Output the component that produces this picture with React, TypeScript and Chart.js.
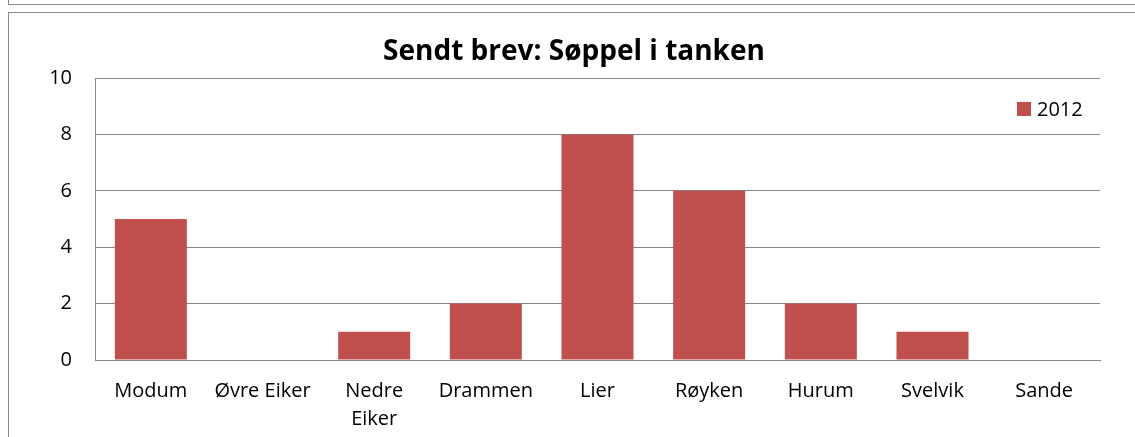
import React, { useEffect, useRef } from "react";
import { Chart, registerables } from "chart.js";

Chart.register(...registerables);

const categories: (string | string[])[] = [
  "Modum",
  "Øvre Eiker",
  ["Nedre", "Eiker"],
  "Drammen",
  "Lier",
  "Røyken",
  "Hurum",
  "Svelvik",
  "Sande",
];
const seriesLabel = "2012";
const values2012 = [5, 0, 1, 2, 8, 6, 2, 1, 0];
const titleText = "Sendt brev: Søppel i tanken";
const yMin = 0;
const yMax = 10;
const yStep = 2;

const FONT = "'Open Sans', 'DejaVu Sans', sans-serif";
const BAR = "#C0504D";
const GRID = "#868686";

// Legend drawn inside the plot area, top-right, like the original
const insideLegend = {
  id: "insideLegend",
  afterDraw(chart: any) {
    const { ctx, chartArea } = chart;
    const ds = chart.data.datasets[0];
    const boxSize = 14;
    const boxX = chartArea.right - 83;
    const boxY = chartArea.top + 24;
    ctx.save();
    ctx.fillStyle = ds.backgroundColor;
    ctx.fillRect(boxX, boxY, boxSize, boxSize);
    ctx.fillStyle = "#000";
    ctx.font = `20px ${FONT}`;
    ctx.textAlign = "left";
    ctx.textBaseline = "middle";
    ctx.fillText(ds.label, boxX + boxSize + 6, boxY + boxSize / 2 + 1);
    ctx.restore();
  },
};

export default function App() {
  const ref = useRef<HTMLCanvasElement | null>(null);

  useEffect(() => {
    if (!ref.current) return;
    const chart = new Chart(ref.current, {
      type: "bar",
      data: {
        labels: categories,
        datasets: [
          {
            label: seriesLabel,
            data: values2012,
            backgroundColor: BAR,
            borderWidth: 0,
            categoryPercentage: 1,
            barPercentage: 0.645,
          },
        ],
      },
      plugins: [insideLegend],
      options: {
        animation: false,
        responsive: false,
        maintainAspectRatio: false,
        layout: { padding: { left: 48, right: 35, top: 0, bottom: 0 } },
        plugins: {
          title: {
            display: true,
            text: titleText,
            color: "#000",
            font: { family: FONT, size: 28, weight: "bold", lineHeight: 1.2 },
            padding: { top: 35, bottom: 9.4 },
          },
          legend: { display: false },
          tooltip: { enabled: false },
        },
        scales: {
          x: {
            grid: { display: false, drawTicks: false },
            border: { display: true, color: GRID, width: 1 },
            ticks: {
              color: "#000",
              font: { family: FONT, size: 20, lineHeight: 1.4 },
              padding: 17,
              maxRotation: 0,
              autoSkip: false,
            },
            afterFit: (s: any) => {
              s.height = 77;
            },
          },
          y: {
            min: yMin,
            max: yMax,
            grid: { color: GRID, lineWidth: 1, drawTicks: false },
            border: { display: true, color: GRID, width: 1 },
            ticks: {
              stepSize: yStep,
              color: "#000",
              font: { family: FONT, size: 20 },
              padding: 23,
            },
            afterFit: (s: any) => {
              s.width = 47;
            },
          },
        },
      },
    });
    return () => chart.destroy();
  }, []);

  return (
    <div
      style={{
        position: "fixed",
        left: 0,
        top: 0,
        width: 1135,
        height: 437,
        overflow: "hidden",
        background: "#fff",
      }}
    >
      <div
        style={{
          position: "absolute",
          left: 8,
          top: -30,
          width: 1200,
          height: 35,
          border: "1px solid #8a8a8a",
          boxSizing: "border-box",
        }}
      />
      <div
        style={{
          position: "absolute",
          left: 8,
          top: 12,
          width: 1200,
          height: 600,
          border: "1px solid #8a8a8a",
          boxSizing: "border-box",
        }}
      />
      <canvas
        ref={ref}
        width={1135}
        height={437}
        style={{ position: "absolute", left: 0, top: 0, width: 1135, height: 437 }}
      />
    </div>
  );
}
